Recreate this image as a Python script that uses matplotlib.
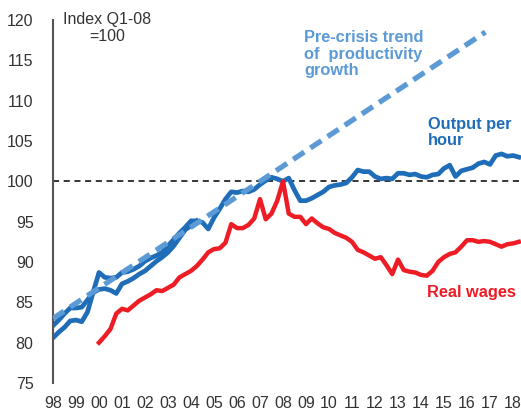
import matplotlib
matplotlib.use("Agg")
import matplotlib.pyplot as plt
import numpy as np

# ---- data ----
# Output per hour (main blue series), quarterly from 1998 Q1
blue_start = 1998.0
output_per_hour = [80.6, 81.3, 81.9, 82.7, 82.8, 82.6, 83.8, 86.3,
                   88.7, 88.1, 88.0, 88.1, 88.7, 88.8, 89.1, 89.5,
                   90.1, 90.5, 90.8, 91.2, 92.0, 92.8, 93.6, 94.3,
                   95.1, 95.1, 94.9, 94.1, 95.5, 96.6, 97.8, 98.7,
                   98.6, 98.8, 98.7, 99.0, 99.6, 100.1, 100.5, 100.3,
                   100.0, 100.4, 98.9, 97.6, 97.6, 97.9, 98.3, 98.7,
                   99.3, 99.5, 99.6, 99.8, 100.5, 101.4, 101.2, 101.2,
                   100.6, 100.3, 100.4, 100.3, 101.0, 101.0, 100.8, 100.9,
                   100.6, 100.5, 100.8, 100.9, 101.6, 102.0, 100.6, 101.3,
                   101.5, 101.7, 102.2, 102.4, 102.1, 103.2, 103.4, 103.1,
                   103.2, 103.0]
# Second productivity measure (blue), quarterly from 1998 Q1, merges ~2004
output_alt = [82.1, 82.8, 83.6, 84.3, 84.3, 84.4, 85.3, 86.2,
              86.6, 86.7, 86.5, 86.1, 87.3, 87.6, 88.0, 88.5,
              88.9, 89.5, 90.1, 90.6, 91.2, 92.0, 93.0, 94.0,
              94.5, 95.1]
# Real wages, quarterly from 2000 Q1
wages_start = 2000.0
real_wages = [80.0, 80.8, 81.7, 83.6, 84.2, 84.0, 84.6, 85.2,
              85.6, 86.0, 86.5, 86.4, 86.8, 87.2, 88.1, 88.5,
              88.9, 89.5, 90.3, 91.2, 91.6, 91.7, 92.4, 94.7,
              94.2, 94.2, 94.6, 95.4, 97.8, 95.3, 96.0, 97.6,
              100.0, 96.0, 95.6, 95.6, 94.7, 95.4, 94.8, 94.3,
              94.1, 93.6, 93.3, 93.0, 92.5, 91.5, 91.2, 90.8,
              90.4, 90.6, 89.6, 88.5, 90.3, 89.0, 88.8, 88.7,
              88.4, 88.3, 88.9, 90.0, 90.6, 91.0, 91.2, 91.9,
              92.7, 92.7, 92.5, 92.6, 92.5, 92.2, 91.9, 92.2,
              92.3, 92.5]
# Pre-crisis productivity trend (straight line end points)
trend_x = [1998.0, 2016.8]
trend_y = [83.0, 118.5]

year_ticks = list(range(1998, 2019))
year_labels = [f"{y % 100:02d}" for y in year_ticks]
y_ticks = [75, 80, 85, 90, 95, 100, 105, 110, 115, 120]

BLUE = "#1F6DB8"
LIGHT = "#5C9AD6"
RED = "#EE1C25"
TXT = "#333333"

plt.rcParams['font.family'] = ['Liberation Sans', 'DejaVu Sans']

fig = plt.figure(figsize=(5.21, 4.12), dpi=100)
ax = fig.add_axes([53/521, 1-383/412, 1-53/521, (383-20)/412])

xb = blue_start + np.arange(len(output_per_hour)) / 4
xa = blue_start + np.arange(len(output_alt)) / 4
xw = wages_start + np.arange(len(real_wages)) / 4

ax.axhline(100, color="black", lw=1.1, ls=(0, (4, 3)), zorder=1)
ax.plot(xa, output_alt, color=BLUE, lw=3.4, solid_joinstyle="round", zorder=2)
ax.plot(xb, output_per_hour, color=BLUE, lw=3.4, solid_joinstyle="round", zorder=2)
ax.plot(trend_x, trend_y, color=LIGHT, lw=3.8, ls=(0, (2.5, 1.4)), zorder=3)
ax.plot(xw, real_wages, color=RED, lw=3.2, solid_joinstyle="round", zorder=4)

ax.set_xlim(1998.0, 1998.0 + (521-53)/23)
ax.set_ylim(75, 120)
ax.set_yticks(y_ticks)
ax.set_xticks(year_ticks)
ax.set_xticklabels(year_labels)
ax.tick_params(axis="both", length=0, labelsize=11.5, colors=TXT)
ax.tick_params(axis="y", pad=14)
ax.tick_params(axis="x", pad=9)
for s in ["top", "right", "bottom"]:
    ax.spines[s].set_visible(False)
ax.spines["left"].set_color("#555555")
ax.spines["left"].set_linewidth(1.5)

ax.text(1998 + (107-53)/23, 100 + (182-29)/8.05, "Index Q1-08\n=100", ha="center", va="center",
        fontsize=11.5, color=TXT, linespacing=1.1)
ax.text(1998 + (304-53)/23, 100 + (182-55)/8.05, "Pre-crisis trend\nof  productivity\ngrowth",
        ha="left", va="center", fontsize=11.8, fontweight="bold", color=LIGHT, linespacing=1.12)
ax.text(1998 + (428-53)/23, 100 + (182-133)/8.05, "Output per\nhour",
        ha="left", va="center", fontsize=11.8, fontweight="bold", color=BLUE, linespacing=1.12)
ax.text(1998 + (427-53)/23, 100 + (182-293)/8.05, "Real wages",
        ha="left", va="center", fontsize=11.8, fontweight="bold", color=RED)

for spine in ax.spines.values():
    spine.set_clip_on(False)

fig.savefig("out.png", dpi=100)
